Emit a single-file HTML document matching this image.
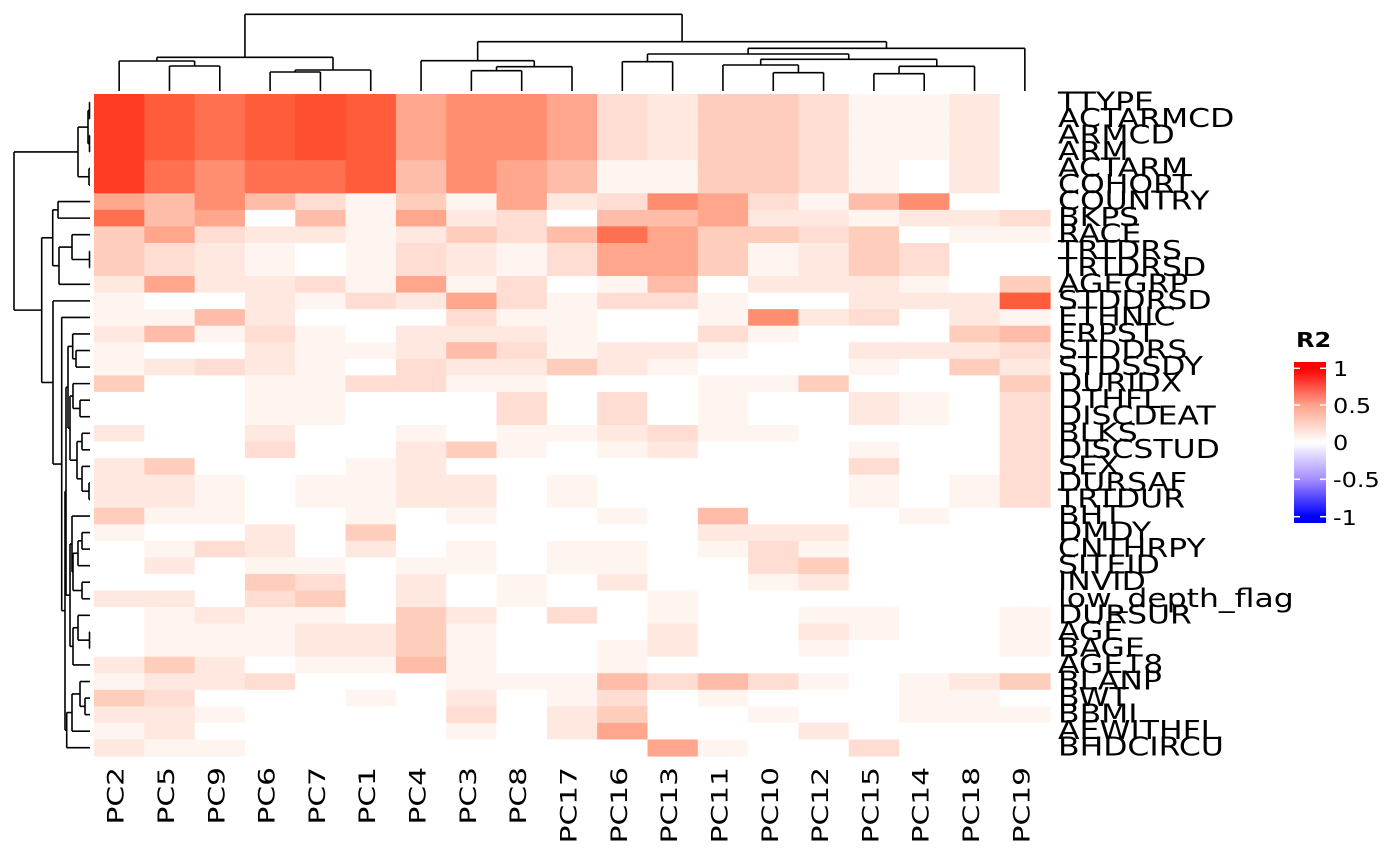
<!DOCTYPE html>
<html><head><meta charset="utf-8"><style>
html,body{margin:0;padding:0;background:#fff;width:1400px;height:866px;overflow:hidden}
svg{display:block}
text{font-family:"DejaVu Sans","Liberation Sans",sans-serif;fill:#000}
</style></head><body>
<svg id="s" width="1400" height="866" viewBox="0 0 1400 866" xmlns="http://www.w3.org/2000/svg">
<defs>
<linearGradient id="lg" x1="0" y1="0" x2="0" y2="1">
<stop offset="0" stop-color="#FF0000"/>
<stop offset="0.041" stop-color="#FF0000"/>
<stop offset="0.27" stop-color="#FFA48C"/>
<stop offset="0.5" stop-color="#FFFFFF"/>
<stop offset="0.73" stop-color="#A48CFF"/>
<stop offset="0.959" stop-color="#0000FF"/>
<stop offset="1" stop-color="#0000FF"/>
</linearGradient>
</defs>
<g id="cells"></g>
<g id="dend" stroke="#000" stroke-width="1.6" fill="none"></g>
<g id="labels"></g>
<text x="0" y="0" font-size="20" font-weight="bold" transform="translate(1296,347) scale(1.2,1)">R2</text>
<rect x="1294" y="362" width="32" height="161" fill="url(#lg)"/>
<g stroke="#fff" stroke-width="1.5">
<line x1="1294" y1="368.3" x2="1300" y2="368.3"/><line x1="1320" y1="368.3" x2="1326" y2="368.3"/>
<line x1="1294" y1="405" x2="1300" y2="405"/><line x1="1320" y1="405" x2="1326" y2="405"/>
<line x1="1294" y1="442" x2="1300" y2="442"/><line x1="1320" y1="442" x2="1326" y2="442"/>
<line x1="1294" y1="479.3" x2="1300" y2="479.3"/><line x1="1320" y1="479.3" x2="1326" y2="479.3"/>
<line x1="1294" y1="516.7" x2="1300" y2="516.7"/><line x1="1320" y1="516.7" x2="1326" y2="516.7"/>
</g>
<g font-size="20">
<text x="0" y="0" transform="translate(1333,376) scale(1.2,1)">1</text>
<text x="0" y="0" transform="translate(1333,413) scale(1.2,1)">0.5</text>
<text x="0" y="0" transform="translate(1333,450) scale(1.2,1)">0</text>
<text x="0" y="0" transform="translate(1333,487) scale(1.2,1)">-0.5</text>
<text x="0" y="0" transform="translate(1333,525) scale(1.2,1)">-1</text>
</g>
</svg>
<script>
(function(){
var NS="http://www.w3.org/2000/svg";
var pal={"0":"#FFFFFF","1":"#FFF5F0","2":"#FFE8E0","3":"#FFDDD2","4":"#FFCDBC","5":"#FFBCA8","6":"#FFA68C","7":"#FF8E70","8":"#FF7050","9":"#FF5C3C","A":"#FF4E30","B":"#FF3C22"};
var rows=["B989A96776324431120","B989A96776324431120","B989A96776324431120","B989A96776324431120",
"B878895765114431020","B878895765114431020",
"6575314162376315700","8560516230556221223","4632212435864434011",
"4321013213664124300","4321013213664124300",
"2622316130150222104","1002132631331002229","1152000311001723021",
"2513102221003100045","1002112531221002223","1232103224210001042",
"4001133110001140004","0001100030301002103","0001100030301002103",
"2002001011231100003","0003002410120001003","2400012000000003003",
"2210112201000001013","2210112201000001013","4110010100105000100",
"1002040000002220000","0132020101101310000","0201101101100340000",
"0004302010200120000","2203402010010000000","0121104203010011001",
"0111224100020021001","0111224100120010001","2420115100100000000",
"1223000111535310124","4300010201301000110","2210000302400100111",
"1200000102600020000","2110000000061003000"];
var rn=["TTYPE","ACTARMCD","ARMCD","ARM","ACTARM","COHORT","COUNTRY","BKPS","RACE","TRTDRS","TRTDRSD","AGEGRP","STDDRSD","ETHNIC","FRPST","STDDRS","STDSSDY","DURIDX","DTHFL","DISCDEAT","BLKS","DISCSTUD","SEX","DURSAF","TRTDUR","BHT","DMDY","CNTHRPY","SITEID","INVID","low_depth_flag","DURSUR","AGE","BAGE","AGE18","BLANP","BWT","BBMI","AEWITHFL","BHDCIRCU"];
var cn=["PC2","PC5","PC9","PC6","PC7","PC1","PC4","PC3","PC8","PC17","PC16","PC13","PC11","PC10","PC12","PC15","PC14","PC18","PC19"];
var X0=94,CW=50.316,Y0=94,RH=16.55;
var cells=document.getElementById("cells");
function el(t,a,p){var e=document.createElementNS(NS,t);for(var k in a)e.setAttribute(k,a[k]);p.appendChild(e);return e;}
for(var i=0;i<40;i++)for(var j=0;j<19;j++){
 el("rect",{x:(X0+j*CW).toFixed(2),y:(Y0+i*RH).toFixed(2),width:(CW+0.6).toFixed(2),height:(RH+0.6).toFixed(2),fill:pal[rows[i][j]]},cells);
}
var lab=document.getElementById("labels");
for(var i=0;i<40;i++){
 var t=el("text",{x:0,y:0,"font-size":"26",transform:"translate(1058,"+(Y0+RH*(i+0.5)+8).toFixed(1)+") scale(1.21,1)"},lab);
 t.textContent=rn[i];
}
for(var j=0;j<19;j++){
 var cx=X0+CW*(j+0.5)+4.5;
 var t=el("text",{x:0,y:0,"font-size":"22","text-anchor":"end",transform:"translate("+cx.toFixed(1)+",767) rotate(-90) scale(1.35,1)"},lab);
 t.textContent=cn[j];
}
var d=document.getElementById("dend");
function line(x1,y1,x2,y2){el("line",{x1:x1,y1:y1,x2:x2,y2:y2},d);}
function top(n){
 if(typeof n==="number")return [X0+CW*(n+0.5),91];
 var a=top(n[1]),b=top(n[2]),h=n[0];
 line(a[0],h,b[0],h);line(a[0],h,a[0],a[1]);line(b[0],h,b[0],b[1]);
 return [(a[0]+b[0])/2,h];
}
var A=[66,1,2],B=[61,0,A],C=[72,3,4],D=[70,C,5],E=[57.3,B,D],G=[70.7,7,8],H=[66.7,G,9],I=[60.7,6,H],J=[61.7,10,11],K=[72.7,13,14],L=[65,12,K],M=[73.7,15,16],N=[66.3,M,17],O=[59.3,L,N],P=[54,J,O],Q=[48.3,P,18],R=[41.7,I,Q];
top([14.3,E,R]);
function left(n){
 if(typeof n==="number")return [Y0+RH*(n+0.5),90];
 var a=left(n[1]),b=left(n[2]),h=n[0];
 line(h,a[0],h,b[0]);line(h,a[0],a[1],a[0]);line(h,b[0],b[1],b[0]);
 return [(a[0]+b[0])/2,h];
}
var T1=[78,[88,[89.5,0,1],[89.5,2,3]],[89,4,5]];
var T2a=[52.7,[58,6,7],[59,[72,8,[89.5,9,10]],11]];
var A1=[68,[72.7,14,[76,15,16]],[70,[73,17,[80,18,19]],[77,[82,20,21],[82,22,[89,23,24]]]]];
var A2=[70,[72,25,[73,[78,[82,26,27],28],[82,29,30]]],[73,[78,31,[89.5,32,33]],34]];
var Bc=[66.7,[72,[80,35,[85,36,37]],38],39];
var REST=[65,[66,A1,A2],Bc];
var T2b=[53,12,[61.7,13,REST]];
left([14,T1,[41.7,T2a,T2b]]);
})();
</script>
</body></html>
